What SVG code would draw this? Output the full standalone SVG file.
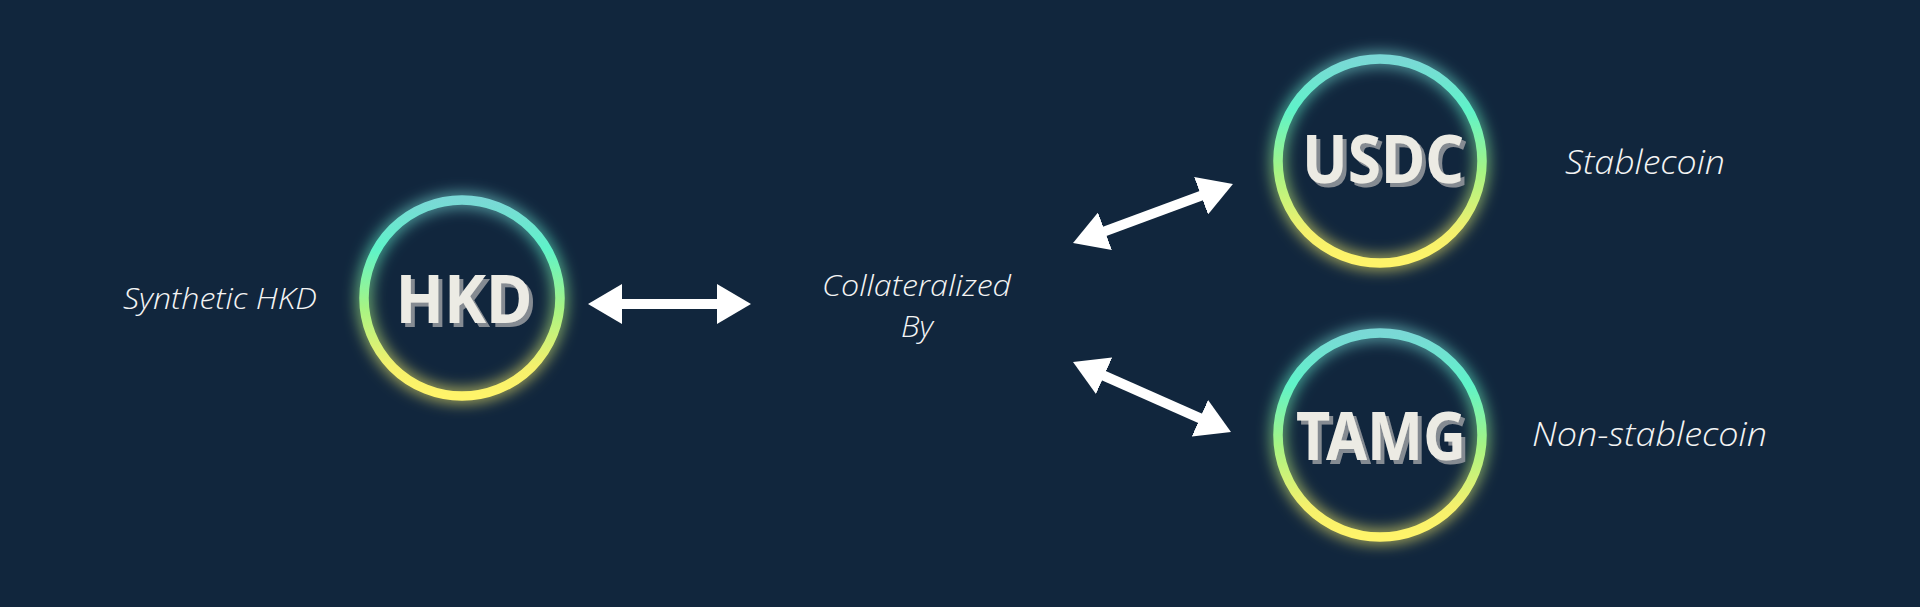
<svg xmlns="http://www.w3.org/2000/svg" width="1920" height="607" viewBox="0 0 1920 607">
  <defs>
    <linearGradient id="ring" x1="0" y1="0" x2="0" y2="1">
      <stop offset="0" stop-color="#7ad8d6"/>
      <stop offset="0.25" stop-color="#5ff3c9"/>
      <stop offset="0.55" stop-color="#a6f484"/>
      <stop offset="0.85" stop-color="#f5f06c"/>
      <stop offset="1" stop-color="#fff46a"/>
    </linearGradient>
    <filter id="glow" x="-30%" y="-30%" width="160%" height="160%">
      <feGaussianBlur in="SourceGraphic" stdDeviation="8" result="b"/>
      <feMerge>
        <feMergeNode in="b"/>
        <feMergeNode in="SourceGraphic"/>
      </feMerge>
    </filter>
    <filter id="shadow" x="-10%" y="-20%" width="130%" height="150%">
      <feOffset in="SourceAlpha" dx="4" dy="4" result="o"/>
      <feFlood flood-color="#858b92"/>
      <feComposite in2="o" operator="in" result="s"/>
      <feMerge>
        <feMergeNode in="s"/>
        <feMergeNode in="SourceGraphic"/>
      </feMerge>
    </filter>
    <marker id="head" viewBox="0 0 34 40" refX="14" refY="20" markerWidth="34" markerHeight="40" markerUnits="userSpaceOnUse" orient="auto-start-reverse">
      <path d="M0,0 L34,20 L0,40 Z" fill="#ffffff"/>
    </marker>
  </defs>
  <style>
    .ring { fill: none; stroke: url(#ring); stroke-width: 9.5; filter: url(#glow); }
    .big { font-family: "Noto Sans", "Open Sans", sans-serif; font-weight: 700; font-size: 67px; text-anchor: middle; fill: #ecebe4; filter: url(#shadow); }
    .lbl { font-family: "Open Sans", "Noto Sans", sans-serif; font-style: italic; font-weight: 300; fill: #f4f4f4; }
    .conn line { stroke: #ffffff; stroke-width: 10; marker-start: url(#head); marker-end: url(#head); }
  </style>
  <rect width="1920" height="607" fill="#11263d"/>

  <g id="hkd">
    <circle class="ring" cx="462" cy="298" r="98"/>
    <text class="big" x="464" y="323" textLength="137" lengthAdjust="spacingAndGlyphs">HKD</text>
  </g>

  <g id="usdc">
    <circle class="ring" cx="1380" cy="161" r="102"/>
    <text class="big" x="1383" y="183" textLength="162" lengthAdjust="spacingAndGlyphs">USDC</text>
  </g>

  <g id="tamg">
    <circle class="ring" cx="1380" cy="435" r="102"/>
    <text class="big" x="1381" y="460" textLength="170" lengthAdjust="spacingAndGlyphs">TAMG</text>
  </g>

  <g id="synthetic-label">
    <text class="lbl" x="123" y="309" font-size="29" textLength="194" lengthAdjust="spacingAndGlyphs">Synthetic HKD</text>
  </g>
  <g id="collateralized-label">
    <text class="lbl" x="822" y="296" font-size="29" textLength="189" lengthAdjust="spacingAndGlyphs">Collateralized</text>
    <text class="lbl" x="901" y="337" font-size="29" textLength="32" lengthAdjust="spacingAndGlyphs">By</text>
  </g>
  <g id="stablecoin-label">
    <text class="lbl" x="1565" y="174" font-size="33" textLength="160" lengthAdjust="spacingAndGlyphs">Stablecoin</text>
  </g>
  <g id="nonstablecoin-label">
    <text class="lbl" x="1532" y="446" font-size="33" textLength="235" lengthAdjust="spacingAndGlyphs">Non-stablecoin</text>
  </g>

  <g id="connectors" class="conn">
    <line x1="608" y1="304" x2="731" y2="304"/>
    <line x1="1091.8" y1="236.1" x2="1214.2" y2="190.9"/>
    <line x1="1091.3" y1="370.1" x2="1212.7" y2="423.9"/>
  </g>
</svg>
